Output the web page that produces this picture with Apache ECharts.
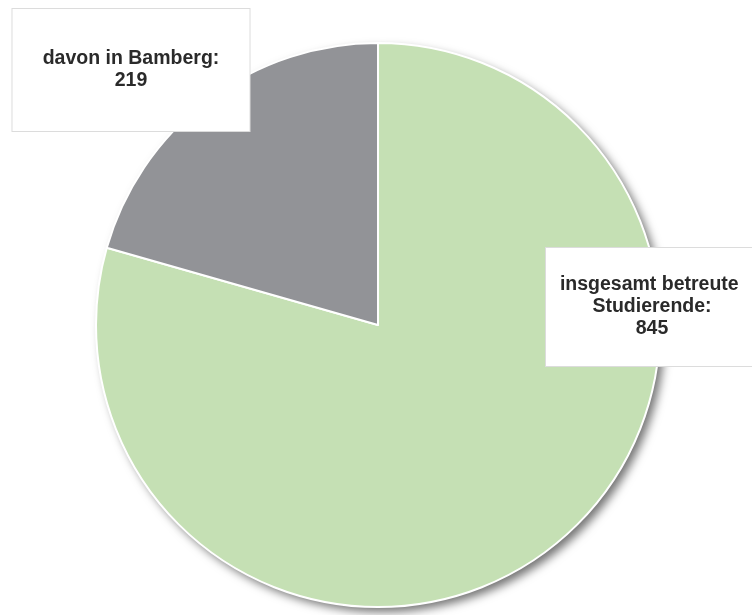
<!DOCTYPE html>
<html>
<head>
<meta charset="utf-8">
<script src="https://cdn.jsdelivr.net/npm/echarts@6/dist/echarts.min.js"></script>
<style>
  html, body { margin: 0; padding: 0; background: #fff; }
  #chart { width: 752px; height: 615px; }
</style>
</head>
<body>
<div id="chart"></div>
<script>
  // Werte aus der Grafik
  var names = ['insgesamt betreute Studierende', 'davon in Bamberg'];
  var values = [845, 219];
  var colors = ['#c5e0b4', '#929397'];

  var pieData = names.map(function (n, i) {
    return { name: n, value: values[i], itemStyle: { color: colors[i] } };
  });

  // Position der Beschriftungskästen
  var labelPos = [
    { x: 652, y: 307, width: 186, padV: 26, padH: 13 },
    { x: 131, y: 70, width: 205, padV: 39, padH: 16 }
  ];

  var myChart = echarts.init(document.getElementById('chart'));
  myChart.setOption({
    animation: false,
    series: [
      {
        // nur Schatten
        type: 'pie',
        center: [378, 325],
        radius: 282,
        silent: true,
        label: { show: false },
        labelLine: { show: false },
        itemStyle: {
          shadowBlur: 10,
          shadowOffsetX: 5,
          shadowOffsetY: 5,
          shadowColor: 'rgba(0,0,0,0.55)'
        },
        data: pieData
      },
      {
        type: 'pie',
        center: [378, 325],
        radius: 282,
        itemStyle: { borderColor: '#fff', borderWidth: 2 },
        labelLine: { show: false },
        label: {
          show: true,
          position: 'outside',
          formatter: function (p) { return p.name + ':\n' + p.value; },
          fontFamily: 'Liberation Sans, Arial, sans-serif',
          fontWeight: 'bold',
          fontSize: 19.5,
          lineHeight: 22,
          color: '#2a2a2a',
          align: 'center',
          overflow: 'break',
          backgroundColor: '#fff',
          borderColor: '#dcdcdc',
          borderWidth: 1
        },
        labelLayout: function (params) {
          var lp = labelPos[params.dataIndex];
          return { x: lp.x, y: lp.y, align: 'center', verticalAlign: 'middle' };
        },
        data: pieData.map(function (d, i) {
          var lp = labelPos[i];
          return {
            name: d.name, value: d.value, itemStyle: d.itemStyle,
            label: { width: lp.width, padding: [lp.padV, lp.padH] }
          };
        })
      }
    ]
  });
</script>
</body>
</html>
